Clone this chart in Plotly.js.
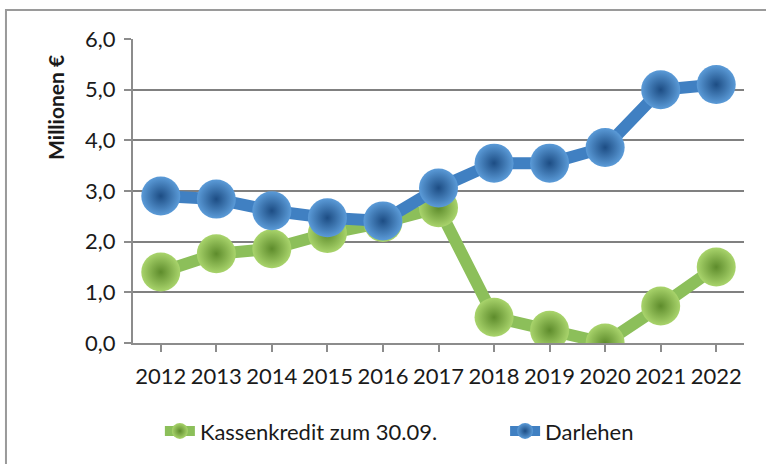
<!DOCTYPE html>
<html>
<head>
<meta charset="utf-8">
<script src="https://cdn.plot.ly/plotly-3.0.1.min.js"></script>
<style>html,body{margin:0;padding:0;background:#fff;}#chart{width:766px;height:464px;}</style>
</head>
<body>
<div id="chart"></div>
<script>
const years = ['2012','2013','2014','2015','2016','2017','2018','2019','2020','2021','2022'];
const kassenkredit = [1.40, 1.76, 1.86, 2.16, 2.38, 2.67, 0.51, 0.25, 0.00, 0.73, 1.50];
const darlehen = [2.90, 2.84, 2.61, 2.47, 2.41, 3.06, 3.55, 3.55, 3.86, 5.00, 5.10];
const seriesNames = ['Kassenkredit zum 30.09.', 'Darlehen'];
const yTicks = [0, 1, 2, 3, 4, 5, 6];

const font = 'Lato, "Open Sans", "DejaVu Sans", sans-serif';

const traces = [
  {
    x: years, y: kassenkredit, name: seriesNames[0], type: 'scatter', mode: 'lines+markers',
    legend: 'legend',
    line: {color: '#8cbf5a', width: 12},
    marker: {size: 39, color: '#a9d46c', gradient: {type: 'radial', color: '#5e8c2c'}, line: {width: 0}}
  },
  {
    x: years, y: darlehen, name: seriesNames[1], type: 'scatter', mode: 'lines+markers',
    legend: 'legend2',
    line: {color: '#4080c2', width: 12},
    marker: {size: 39, color: '#5b9bd8', gradient: {type: 'radial', color: '#1d4d84'}, line: {width: 0}}
  }
];

const legendCommon = {orientation: 'h', xanchor: 'left', y: -0.29, yanchor: 'middle',
  font: {family: font, size: 22, color: '#1a1a1a'}, bgcolor: 'rgba(0,0,0,0)'};

const layout = {
  width: 766, height: 464,
  margin: {l: 133, r: 22, t: 39, b: 121},
  paper_bgcolor: '#ffffff', plot_bgcolor: '#ffffff',
  font: {family: font, size: 22, color: '#1a1a1a'},
  separators: ',.',
  showlegend: true,
  legend: Object.assign({}, legendCommon, {x: 0.044}),
  legend2: Object.assign({}, legendCommon, {x: 0.609}),
  xaxis: {
    type: 'category', range: [-0.5, 10.5], showgrid: false,
    showline: true, linecolor: '#8c8c8c', linewidth: 2,
    ticks: 'outside', ticklen: 7, tickcolor: '#8c8c8c', tickwidth: 2,
    tickfont: {family: font, size: 22, color: '#1a1a1a'}, ticklabelstandoff: 6, fixedrange: true
  },
  yaxis: {
    range: [0, 6], tickvals: yTicks, tickformat: '.1f',
    showgrid: true, gridcolor: '#808080', gridwidth: 2,
    showline: true, linecolor: '#8c8c8c', linewidth: 2,
    ticks: 'outside', ticklen: 7, tickcolor: '#8c8c8c', tickwidth: 2,
    tickfont: {family: font, size: 22, color: '#1a1a1a'}, ticklabelstandoff: 4,
    zeroline: false, fixedrange: true
  },
  annotations: [{
    text: '<b>Millionen €</b>', xref: 'paper', yref: 'paper',
    x: -0.128, y: 0.776, xanchor: 'center', yanchor: 'middle', textangle: -90, showarrow: false,
    font: {family: font, size: 21, color: '#1a1a1a'}
  }],
  shapes: [{
    type: 'rect', xref: 'paper', yref: 'paper',
    x0: -0.2079, x1: 1.05, y0: -0.42, y1: 1.095,
    line: {color: '#9a9a9a', width: 2}, layer: 'below'
  }]
};

Plotly.newPlot('chart', traces, layout, {displayModeBar: false, staticPlot: true});
</script>
</body>
</html>
